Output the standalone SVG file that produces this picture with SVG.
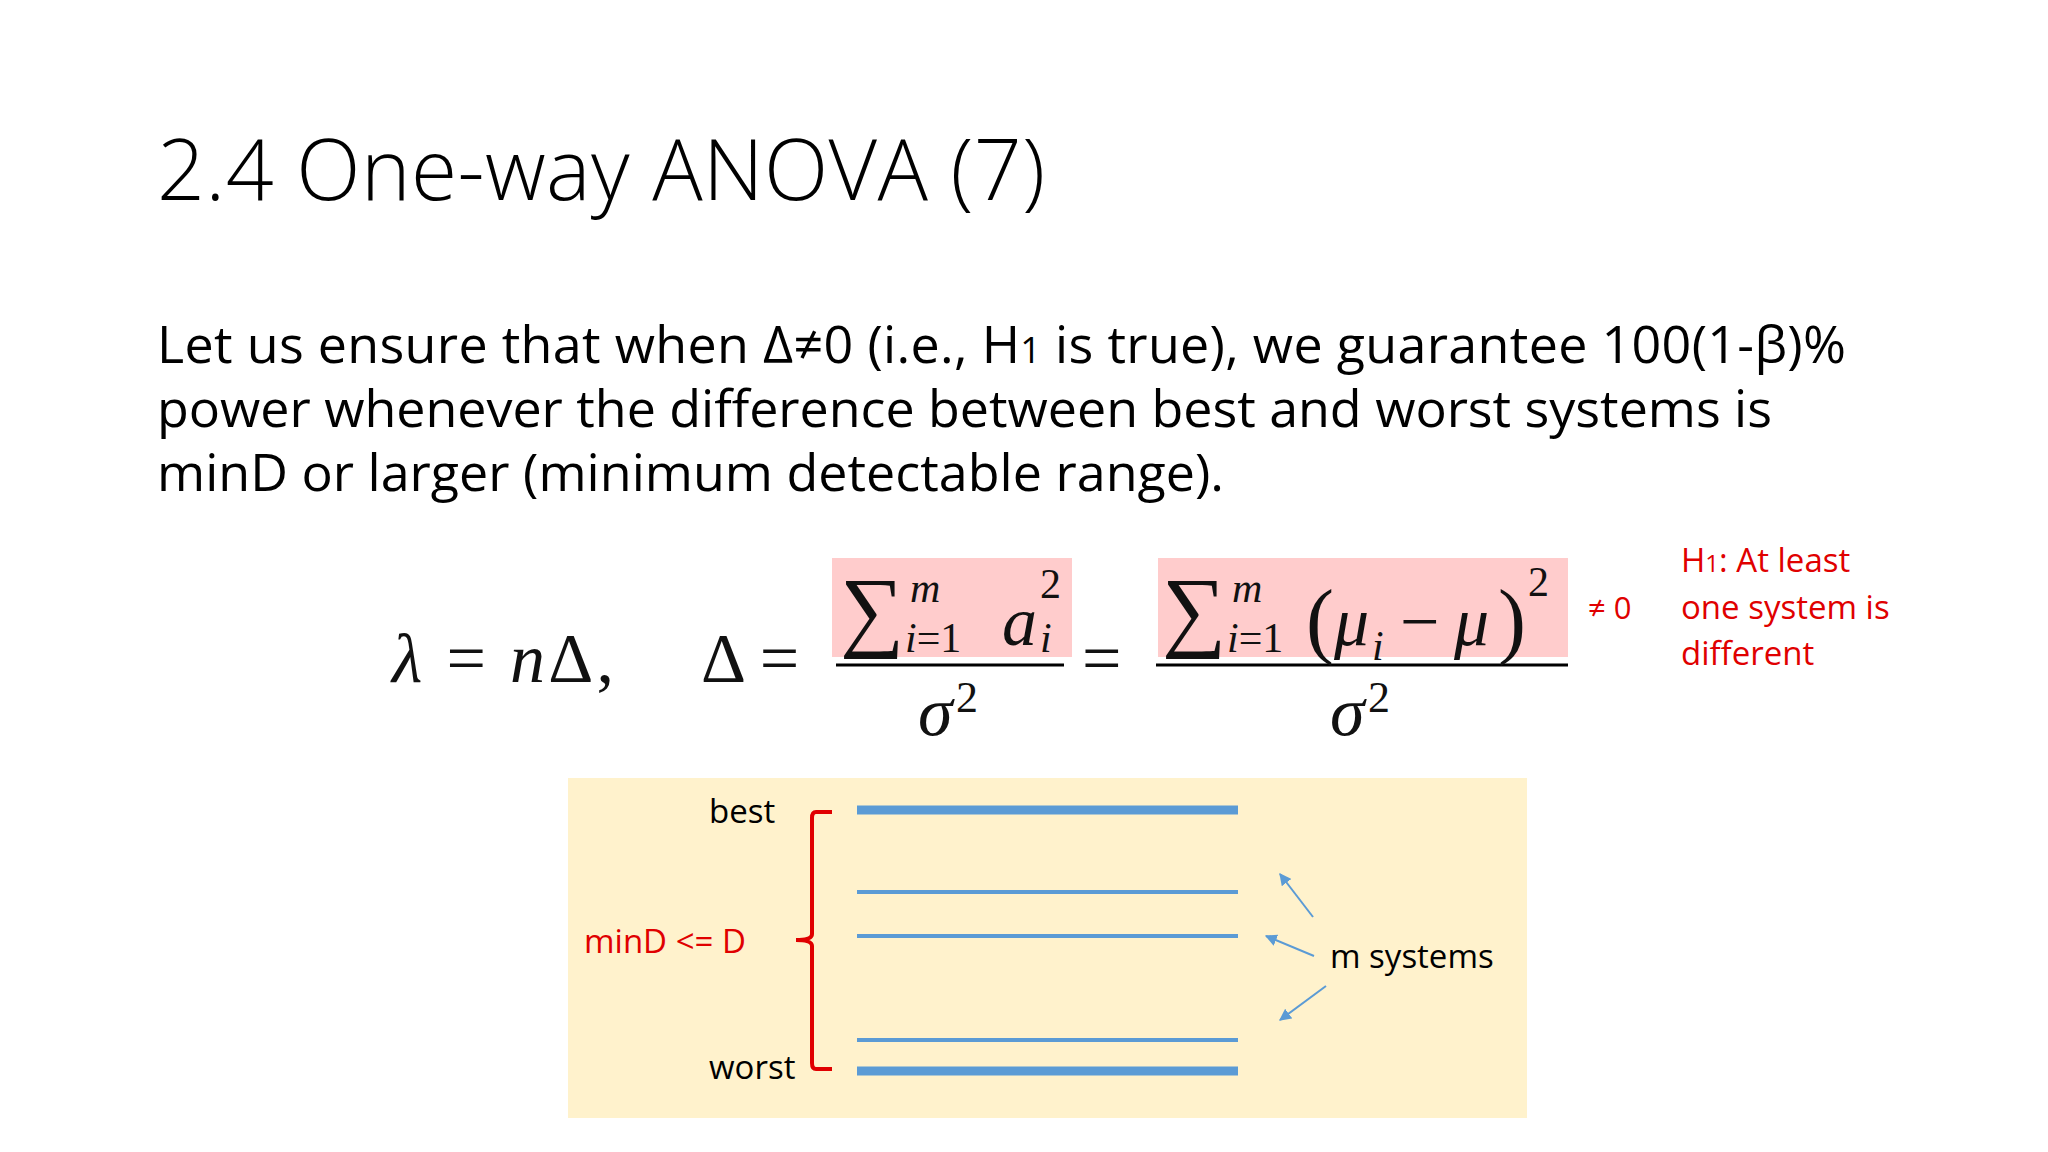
<svg xmlns="http://www.w3.org/2000/svg" width="2048" height="1152" viewBox="0 0 2048 1152">
<defs>
<style>
.t{font-family:"Open Sans","Liberation Sans",sans-serif;fill:#000}
.m{font-family:"Liberation Serif",serif;font-style:italic;fill:#111}
.u{font-family:"Liberation Serif",serif;fill:#111}
.r{fill:#E00000;font-family:"Open Sans","Liberation Sans",sans-serif}
.thick{stroke:#5B9BD5;stroke-width:9}
.thin{stroke:#5B9BD5;stroke-width:4}
</style>
<marker id="a" viewBox="0 0 10 10" refX="9" refY="5" markerWidth="6" markerHeight="6" orient="auto"><path d="M0,0L10,5L0,10z" fill="#5B9BD5"/></marker>
</defs>
<rect width="2048" height="1152" fill="#fff"/>
<g id="title"><text class="t" x="157" y="200" font-size="84" font-weight="300" textLength="888">2.4 One-way ANOVA (7)</text></g>
<g id="body" font-size="52">
<text class="t" x="157" y="363" textLength="1689">Let us ensure that when Δ≠0 (i.e., H<tspan font-size="36">1</tspan> is true), we guarantee 100(1-β)%</text>
<text class="t" x="157" y="427" textLength="1615">power whenever the difference between best and worst systems is</text>
<text class="t" x="157" y="491" textLength="1067">minD or larger (minimum detectable range).</text>
</g>
<g id="formula">
<rect x="832" y="558" width="240" height="99" fill="#FFCCCC"/>
<rect x="1158" y="558" width="410" height="99" fill="#FFCCCC"/>
<text class="m" x="392" y="682" font-size="70" textLength="222">λ <tspan font-style="normal">=</tspan> n<tspan font-style="normal">Δ,</tspan></text>
<text class="u" x="701" y="682" font-size="70">Δ =</text>
<line x1="836" y1="665" x2="1064" y2="665" stroke="#000" stroke-width="3"/>
<line x1="1156" y1="665" x2="1568" y2="665" stroke="#000" stroke-width="3"/>
<text class="u" x="1082" y="682" font-size="70">=</text>
<text class="u" x="840" y="640" font-size="90">∑</text>
<text class="m" x="910" y="602" font-size="42">m</text>
<text class="m" x="905" y="652" font-size="42">i<tspan font-style="normal">=1</tspan></text>
<text class="m" x="1002" y="645" font-size="70">a</text>
<text class="u" x="1040" y="598" font-size="42">2</text>
<text class="m" x="1040" y="652" font-size="42">i</text>
<text class="u" x="1162" y="640" font-size="90">∑</text>
<text class="m" x="1232" y="602" font-size="42">m</text>
<text class="m" x="1227" y="652" font-size="42">i<tspan font-style="normal">=1</tspan></text>
<text class="u" x="1306" y="648" font-size="84">(</text>
<text class="m" x="1334" y="645" font-size="70">μ</text>
<text class="m" x="1372" y="660" font-size="42">i</text>
<text class="u" x="1400" y="645" font-size="70">−</text>
<text class="m" x="1454" y="645" font-size="70">μ</text>
<text class="u" x="1498" y="648" font-size="84">)</text>
<text class="u" x="1528" y="596" font-size="42">2</text>
<text class="m" x="918" y="735" font-size="70">σ</text><text class="u" x="956" y="712" font-size="44">2</text>
<text class="m" x="1330" y="735" font-size="70">σ</text><text class="u" x="1368" y="712" font-size="44">2</text>
</g>
<g id="h1" font-size="33">
<text class="r" x="1588" y="619" font-size="31">≠ 0</text>
<text class="r" x="1681" y="572">H<tspan font-size="24">1</tspan>: At least</text>
<text class="r" x="1681" y="619">one system is</text>
<text class="r" x="1681" y="665">different</text>
</g>
<g id="chart">
<rect x="568" y="778" width="959" height="340" fill="#FFF2CC"/>
<line class="thick" x1="857" y1="810" x2="1238" y2="810"/>
<line class="thin" x1="857" y1="892" x2="1238" y2="892"/>
<line class="thin" x1="857" y1="936" x2="1238" y2="936"/>
<line class="thin" x1="857" y1="1040" x2="1238" y2="1040"/>
<line class="thick" x1="857" y1="1071" x2="1238" y2="1071"/>
<text class="t" x="709" y="823" font-size="33">best</text>
<text class="t" x="709" y="1079" font-size="33">worst</text>
<text class="r" x="584" y="953" font-size="33">minD &lt;= D</text>
<path d="M832,812 L816,812 Q812,812 812,818 L812,934 Q812,940 796,940 Q812,940 812,946 L812,1063 Q812,1069 816,1069 L832,1069" fill="none" stroke="#E00000" stroke-width="4"/>
<text class="t" x="1330" y="968" font-size="33">m systems</text>
</g>
<g id="connectors" stroke="#5B9BD5" stroke-width="2" fill="none">
<line x1="1313" y1="917" x2="1280" y2="874" marker-end="url(#a)"/>
<line x1="1314" y1="956" x2="1266" y2="936" marker-end="url(#a)"/>
<line x1="1326" y1="986" x2="1280" y2="1020" marker-end="url(#a)"/>
</g>
</svg>
